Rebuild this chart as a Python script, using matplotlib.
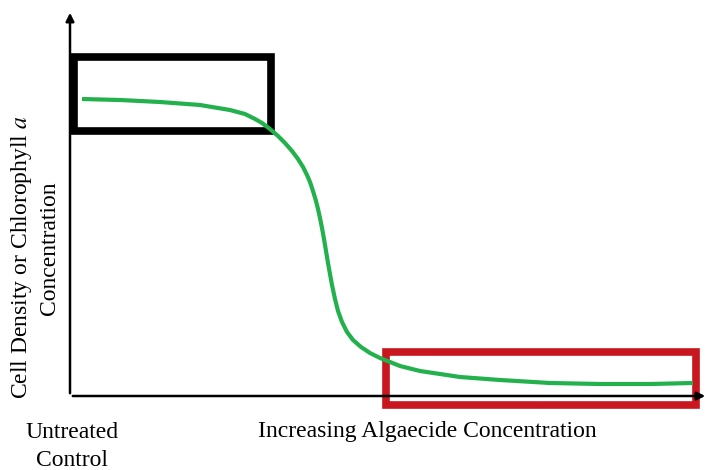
import matplotlib
matplotlib.use('Agg')
import matplotlib.pyplot as plt
from matplotlib.patches import Rectangle

plt.rcParams['font.family'] = ['Liberation Serif', 'DejaVu Serif']
plt.rcParams['mathtext.fontset'] = 'stix'

# dose-response curve, arbitrary units (x: algaecide, y: cell density)
conc = [12, 50, 90, 130, 160, 175, 185, 192, 200, 208, 215, 222, 228, 233, 237,
        240, 243, 246, 248, 250, 252, 254, 256, 258, 260, 262, 265, 268, 272, 277,
        283, 291, 300, 310, 320, 330, 350, 370, 390, 430, 480, 530, 580, 623]
density = [297, 296, 294, 291, 286, 282, 277, 273, 267, 260, 253, 245, 237, 229, 221,
           214, 205, 195, 187, 178, 168, 157, 145, 133, 122, 111, 97, 85, 74, 64,
           56, 49, 43, 38, 34, 30, 25, 22, 19, 16, 13, 12, 12, 13]

# highlighted regions: (x0, y0, width, height)
control_box = (4, 265, 197, 74)
treated_box = (316, -9, 310, 53)

x_max, y_max = 638, 386

fig = plt.figure(figsize=(7.09, 4.70), dpi=100)
ax = fig.add_axes([70 / 709, 74 / 470, 638 / 709, 386 / 470])
ax.set_xlim(0, x_max)
ax.set_ylim(0, y_max)
ax.axis('off')

# axes arrows
ax.annotate('', xy=(x_max, 0), xytext=(0, 0), annotation_clip=False,
            arrowprops=dict(arrowstyle='-|>', color='black', lw=1.8, mutation_scale=12))
ax.annotate('', xy=(0, y_max), xytext=(0, 0), annotation_clip=False,
            arrowprops=dict(arrowstyle='-|>', color='black', lw=1.8, mutation_scale=12))

ax.plot(conc, density, color='#22b14c', lw=3.0, solid_capstyle='butt',
        solid_joinstyle='round', clip_on=False)

ax.add_patch(Rectangle(control_box[:2], control_box[2], control_box[3], fill=False,
                       edgecolor='black', lw=5.5, clip_on=False, joinstyle='miter'))
ax.add_patch(Rectangle(treated_box[:2], treated_box[2], treated_box[3], fill=False,
                       edgecolor='#c8171e', lw=5.5, clip_on=False, joinstyle='miter'))

fs = 17
fig.text(72 / 709, 1 - 432 / 470, 'Untreated', ha='center', va='center', fontsize=fs)
fig.text(72 / 709, 1 - 460 / 470, 'Control', ha='center', va='center', fontsize=fs)
fig.text(427 / 709, 1 - 432 / 470, 'Increasing Algaecide Concentration',
         ha='center', va='center', fontsize=fs)
fig.text(22 / 709, 1 - 257 / 470, 'Cell Density or Chlorophyll $\\mathit{a}$',
         rotation=90, ha='center', va='center', fontsize=fs)
fig.text(50 / 709, 1 - 248 / 470, 'Concentration', rotation=90,
         ha='center', va='center', fontsize=fs)

fig.savefig('out.png', dpi=100, facecolor='white')
